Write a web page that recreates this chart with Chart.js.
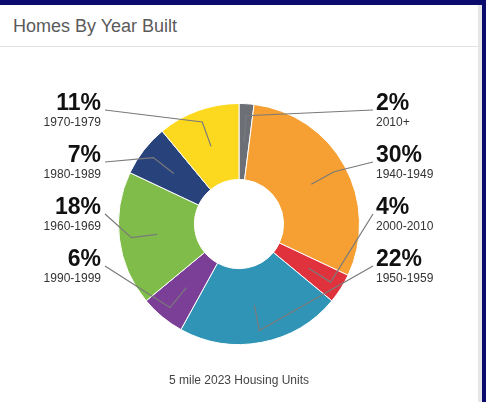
<!DOCTYPE html>
<html>
<head>
<meta charset="utf-8">
<title>Homes By Year Built</title>
<script src="https://cdn.jsdelivr.net/npm/chart.js@4.4.1/dist/chart.umd.min.js"></script>
<style>
  html, body { margin: 0; padding: 0; }
  body { width: 486px; height: 402px; background: #0b0b6e; position: relative; overflow: hidden;
         font-family: 'Liberation Sans', Arial, Helvetica, sans-serif; }
  .card { position: absolute; left: 0; top: 5px; width: 478px; height: 397px; background: #fff; }
  .edge { position: absolute; left: 478px; top: 5px; width: 4px; height: 397px; background: #e6e6e8; }
  .card h2 { position: absolute; left: 13px; top: 12px; margin: 0; font-size: 18px; line-height: 18px;
             font-weight: normal; color: #5a5a5a; white-space: nowrap; }
  .card .rule { position: absolute; left: 0; top: 41px; width: 478px; height: 1px; background: #e2e2e2; }
  #chartYearBuilt { position: absolute; left: 0; top: 42px; }
</style>
</head>
<body>
<div class="card">
  <h2>Homes By Year Built</h2>
  <div class="rule"></div>
  <canvas id="chartYearBuilt" width="478" height="355"></canvas>
</div>
<div class="edge"></div>

<script>
// Répartition des logements par période de construction (sens horaire depuis le haut)
const periodes = ['2010+','1940-1949','2000-2010','1950-1959','1990-1999','1960-1969','1980-1989','1970-1979'];
const parts    = [2, 30, 4, 22, 6, 18, 7, 11];
const couleurs = ['#6c6f76','#f6a033','#e0323c','#2f94b6','#7b3f97','#80bc4a','#28427c','#fcd91e'];
const legende  = '5 mile 2023 Housing Units';

// Étiquettes extérieures + traits de rappel
const etiquettesPlugin = {
  id: 'etiquettes',
  afterDatasetsDraw(chart) {
    const { ctx, chartArea } = chart;
    const arcs = chart.getDatasetMeta(0).data;
    if (!arcs.length) return;
    const cx = arcs[0].x, cy = arcs[0].y;
    const outer = arcs[0].outerRadius;
    const gap = 52;

    // côté gauche / droit selon le centre de la part
    const droite = [], gauche = [];
    arcs.forEach((arc, i) => {
      const p = arc.getCenterPoint();
      (p.x > cx ? droite : gauche).push(i);
    });
    gauche.reverse(); // de haut en bas

    const dessiner = (liste, cote) => {
      liste.forEach((i, slot) => {
        const arc = arcs[i];
        const mid = (arc.startAngle + arc.endAngle) / 2;
        const centre = arc.getCenterPoint();
        const coude = { x: cx + Math.cos(mid) * outer * 0.9, y: cy + Math.sin(mid) * outer * 0.9 };
        const base = chartArea.top + 7 + slot * gap;
        const tx = cote === 'droite' ? cx + 137 : cx - 138;

        ctx.save();
        ctx.strokeStyle = '#7a7a7a';
        ctx.lineWidth = 1.2;
        ctx.beginPath();
        ctx.moveTo(cote === 'droite' ? tx - 3 : tx + 4, base);
        ctx.lineTo(coude.x, coude.y);
        ctx.lineTo(centre.x, centre.y);
        ctx.stroke();

        ctx.textAlign = cote === 'droite' ? 'left' : 'right';
        ctx.textBaseline = 'alphabetic';
        ctx.fillStyle = '#111';
        ctx.font = "bold 23px 'Liberation Sans', Arial, sans-serif";
        ctx.fillText(parts[i] + '%', tx, base);
        ctx.fillStyle = '#333';
        ctx.font = "12px 'Liberation Sans', Arial, sans-serif";
        ctx.fillText(periodes[i], tx, base + 16);
        ctx.restore();
      });
    };
    dessiner(droite, 'droite');
    dessiner(gauche, 'gauche');

    ctx.save();
    ctx.fillStyle = '#444';
    ctx.font = "12px 'Liberation Sans', Arial, sans-serif";
    ctx.textAlign = 'center';
    ctx.fillText(legende, cx, 337);
    ctx.restore();
  }
};

new Chart(document.getElementById('chartYearBuilt'), {
  type: 'doughnut',
  data: {
    labels: periodes,
    datasets: [{
      data: parts,
      backgroundColor: couleurs,
      borderColor: '#ffffff',
      borderWidth: 1
    }]
  },
  options: {
    responsive: false,
    animation: false,
    cutout: '37%',
    layout: { padding: { top: 56, bottom: 57 } },
    plugins: { legend: { display: false }, tooltip: { enabled: false } }
  },
  plugins: [etiquettesPlugin]
});
</script>
</body>
</html>
